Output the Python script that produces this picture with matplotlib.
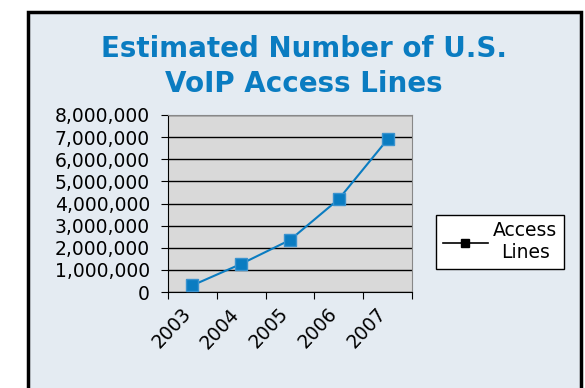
import numpy as np
import matplotlib.pyplot as plt
from matplotlib.patches import Rectangle
from matplotlib.lines import Line2D
from matplotlib.ticker import FuncFormatter, FixedLocator

# data
years = ["2003", "2004", "2005", "2006", "2007"]
access_lines = [300000, 1270000, 2350000, 4200000, 6900000]
y_ticks = [0, 1000000, 2000000, 3000000, 4000000, 5000000, 6000000, 7000000, 8000000]

blue = "#0a7cc1"
panel_bg = "#e4ebf2"

fig = plt.figure(figsize=(5.85, 3.88), dpi=100, facecolor="white")

# outer panel with black frame
fig.patches.append(Rectangle((28 / 585, -0.05), (581 - 28) / 585, 1 - 12 / 388 + 0.05,
                             transform=fig.transFigure, facecolor=panel_bg,
                             edgecolor="black", linewidth=2.5, zorder=-10))

fig.text(304 / 585, 1 - 92 / 388, "Estimated Number of U.S.\nVoIP Access Lines",
         ha="center", va="baseline", color=blue, fontsize=20, fontweight="bold",
         family="DejaVu Sans", linespacing=1.32)

ax = fig.add_axes([168 / 585, 1 - 292 / 388, (412 - 168) / 585, (292 - 115) / 388])
ax.set_facecolor("#d9d9d9")

x = np.arange(len(years)) + 0.5
ax.plot(x, access_lines, color=blue, linewidth=1.5, marker="s", markersize=8,
        markerfacecolor=blue, markeredgecolor="#3a93cf", zorder=3)

ax.set_xlim(0, len(years))
ax.set_ylim(0, 8000000)
ax.xaxis.set_major_locator(FixedLocator(np.arange(len(years) + 1)))
# year labels sit a little left of the category centre
ax.xaxis.set_minor_locator(FixedLocator(x - 0.24))
ax.set_xticklabels([])
ax.set_xticklabels(years, minor=True, rotation=47, ha="right", va="top",
                   rotation_mode="anchor", fontsize=13.5)
ax.tick_params(axis="x", which="minor", length=0, pad=9)
ax.tick_params(axis="x", which="major", length=5, color="black")
ax.set_yticks(y_ticks)
ax.yaxis.set_major_formatter(FuncFormatter(lambda v, p: f"{int(v):,}"))
ax.tick_params(axis="y", length=5, pad=8, labelsize=13.5)
ax.grid(axis="y", color="black", linewidth=1)
ax.set_axisbelow(True)
for side in ["top", "right"]:
    ax.spines[side].set_color("#888888")
for side in ["left", "bottom"]:
    ax.spines[side].set_color("black")

# legend shows a black line + marker
handle = Line2D([], [], color="black", marker="s", markersize=6, linewidth=1.2)
leg = fig.legend([handle], ["Access\nLines"], loc="center",
                 bbox_to_anchor=(500 / 585, 1 - 242 / 388), fontsize=13.5,
                 frameon=True, fancybox=False, edgecolor="black",
                 facecolor="white", framealpha=1, handlelength=2.4,
                 handletextpad=0.3, borderpad=0.35)
leg.get_frame().set_linewidth(1)
for t in leg.get_texts():
    t.set_ha("center")

fig.savefig("out.png", dpi=100, facecolor="white")
